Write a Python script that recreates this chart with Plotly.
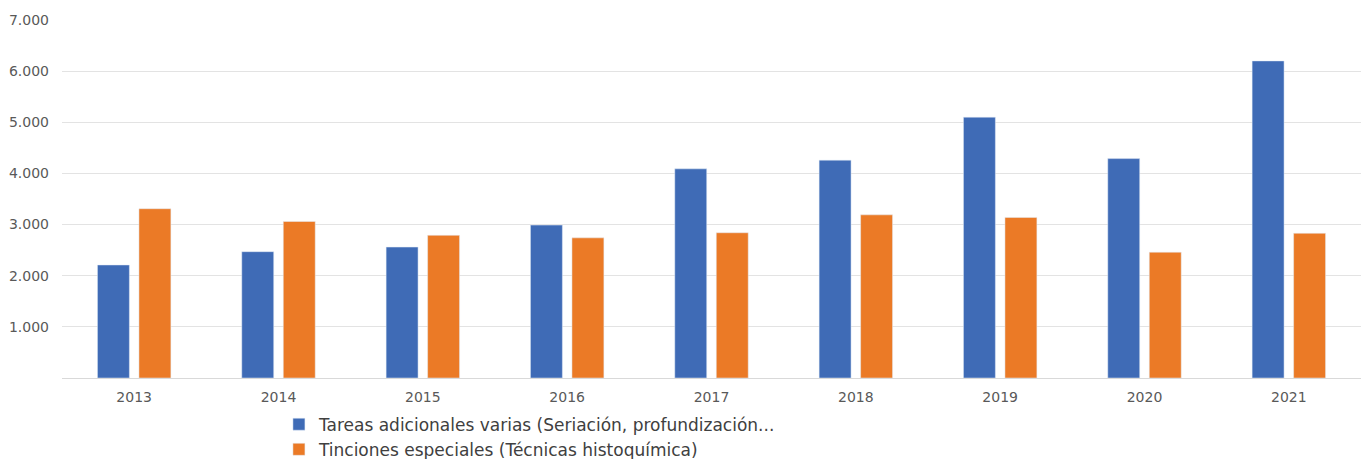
import plotly.graph_objects as go

years = ["2013", "2014", "2015", "2016", "2017", "2018", "2019", "2020", "2021"]
tareas = [2210, 2470, 2560, 2990, 4090, 4260, 5100, 4290, 6200]
tinciones = [3310, 3060, 2790, 2740, 2840, 3190, 3140, 2460, 2830]
series_names = [
    "Tareas adicionales varias (Seriación, profundización...",
    "Tinciones especiales (Técnicas histoquímica)",
]
y_ticks = [1000, 2000, 3000, 4000, 5000, 6000, 7000]

fig = go.Figure()
fig.add_trace(go.Bar(x=years, y=tareas, name=series_names[0], marker_color="#3F6BB6"))
fig.add_trace(go.Bar(x=years, y=tinciones, name=series_names[1], marker_color="#EB7A26"))

fig.update_layout(
    width=1369,
    height=459,
    margin=dict(l=54, r=16, t=12, b=89, autoexpand=False),
    paper_bgcolor="white",
    plot_bgcolor="white",
    barmode="group",
    bargap=0.425,
    bargroupgap=0.23,
    separators=",.",
    font=dict(family="DejaVu Sans", color="#595959", size=14),
    showlegend=True,
    legend=dict(
        orientation="v",
        x=0.167,
        xanchor="left",
        y=-0.080,
        yanchor="top",
        font=dict(family="DejaVu Sans", size=17, color="#404040"),
        itemwidth=30,
        bgcolor="rgba(0,0,0,0)",
        tracegroupgap=0,
    ),
    xaxis=dict(
        showgrid=False,
        showline=True,
        linecolor="#d9d9d9",
        linewidth=1,
        ticks="",
        automargin=False,
        ticklabelstandoff=6,
        tickfont=dict(family="DejaVu Sans", size=14, color="#595959"),
    ),
    yaxis=dict(
        range=[0, 7000],
        tickvals=y_ticks,
        tickformat=",d",
        showgrid=True,
        gridcolor="#e3e3e3",
        gridwidth=1,
        zeroline=False,
        showline=False,
        ticks="",
        automargin=False,
        ticklabelstandoff=12,
        tickfont=dict(family="DejaVu Sans", size=14, color="#595959"),
    ),
)

fig.write_html("out.html")
